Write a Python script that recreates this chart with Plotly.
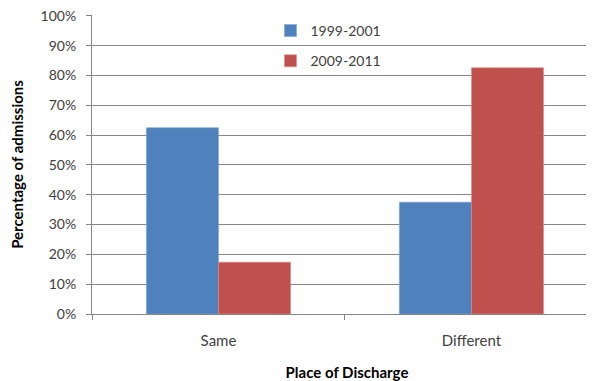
import plotly.graph_objects as go

categories = ["Same", "Different"]
series_names = ["1999-2001", "2009-2011"]
values_1999 = [0.625, 0.375]
values_2009 = [0.174, 0.826]
colors = ["#4F81BD", "#C0504D"]
line_colors = ["#7FA3D1", "#D8918F"]
y_ticks = [0, 0.1, 0.2, 0.3, 0.4, 0.5, 0.6, 0.7, 0.8, 0.9, 1.0]

FONT = "Lato"

fig = go.Figure()
for name, vals, c, lc in zip(series_names, [values_1999, values_2009], colors, line_colors):
    fig.add_trace(go.Bar(
        x=categories, y=vals, name=name, legendgroup=name,
        marker=dict(color=c, line=dict(color=lc, width=0.6)),
    ))

fig.update_layout(
    width=594, height=381,
    margin=dict(l=84, r=0, t=7, b=75),
    paper_bgcolor="white", plot_bgcolor="white",
    barmode="group", bargap=0.43, bargroupgap=0,
    font=dict(family=FONT, size=14, color="#404040"),
    showlegend=True,
    legend=dict(
        x=0.35, y=1.0, xanchor="left", yanchor="top",
        bgcolor="rgba(0,0,0,0)",
        font=dict(family=FONT, size=14, color="#404040"),
        tracegroupgap=9, itemwidth=30,
    ),
    xaxis=dict(
        type="category",
        automargin=False,
        range=[-0.5, 1.516],
        showgrid=False,
        showline=True, linecolor="#868686", linewidth=1,
        ticks="outside", tickson="boundaries", ticklen=5, tickcolor="#868686",
        ticklabelstandoff=13,
        tickfont=dict(family=FONT, size=15, color="#404040"),
        title=dict(text="<b>Place of Discharge</b>", font=dict(family=FONT, size=15, color="#000000"), standoff=19),
    ),
    yaxis=dict(
        automargin=False,
        range=[0, 1.003],
        tickvals=y_ticks, tickformat=".0%",
        ticklabeloverflow="allow",
        showgrid=True, gridcolor="#868686", gridwidth=1,
        showline=True, linecolor="#868686", linewidth=1,
        ticks="outside", ticklen=5, tickcolor="#868686",
        ticklabelstandoff=7,
        tickfont=dict(family=FONT, size=14, color="#404040"),
        zeroline=False,
        title=dict(text="<b>Percentage of admissions</b>", font=dict(family=FONT, size=15, color="#000000"), standoff=14),
    ),
)

fig.write_html("out.html")
